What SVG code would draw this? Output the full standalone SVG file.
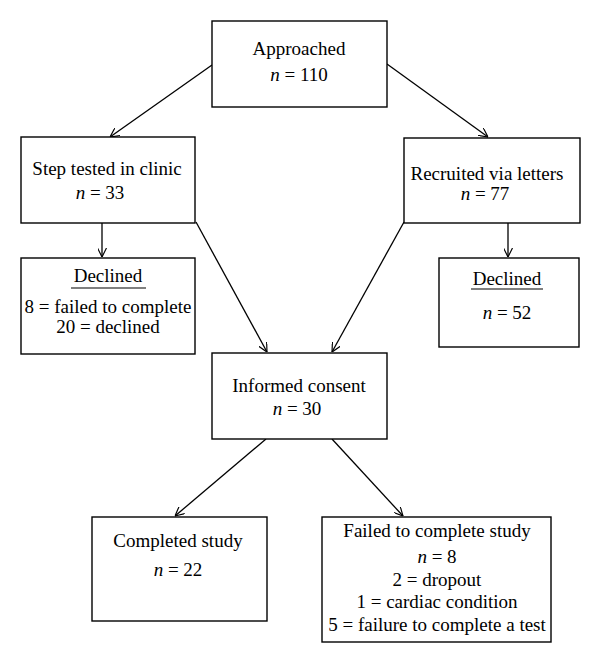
<svg xmlns="http://www.w3.org/2000/svg" width="600" height="663" viewBox="0 0 600 663">
<style>
  .box { fill: #ffffff; stroke: #000000; stroke-width: 1.4; }
  text { font-family: "Liberation Serif", "Times New Roman", serif; font-size: 19px; fill: #000000; text-anchor: middle; }
  .i { font-style: italic; }
  .conn { stroke: #000000; stroke-width: 1.3; fill: none; marker-end: url(#arr); }
  .ul { stroke: #000000; stroke-width: 1.2; }
</style>
<defs>
  <marker id="arr" viewBox="0 0 10 10" refX="10" refY="5" markerWidth="9" markerHeight="9" markerUnits="userSpaceOnUse" orient="auto">
    <path d="M0,0 L10,5 L0,10" fill="none" stroke="#000000" stroke-width="1.3"/>
  </marker>
</defs>
<rect width="600" height="663" fill="#ffffff"/>
<g id="connectors">
  <line class="conn" x1="212" y1="65" x2="110" y2="137"/>
  <line class="conn" x1="387" y1="64" x2="488" y2="137"/>
  <line class="conn" x1="102" y1="223" x2="102" y2="257"/>
  <line class="conn" x1="508" y1="223" x2="508" y2="257"/>
  <line class="conn" x1="196" y1="222" x2="267" y2="352"/>
  <line class="conn" x1="404" y1="222" x2="332" y2="352"/>
  <line class="conn" x1="266" y1="439" x2="175" y2="516"/>
  <line class="conn" x1="332" y1="439" x2="403" y2="516"/>
</g>
<g id="approached">
  <rect class="box" x="212" y="21" width="175" height="86"/>
  <text x="299" y="55">Approached</text>
  <text x="299" y="81"><tspan class="i">n</tspan> = 110</text>
</g>
<g id="step-tested">
  <rect class="box" x="21" y="137" width="174" height="86"/>
  <text x="107" y="175">Step tested in clinic</text>
  <text x="100" y="199"><tspan class="i">n</tspan> = 33</text>
</g>
<g id="recruited">
  <rect class="box" x="404" y="138" width="176" height="85"/>
  <text x="487" y="180">Recruited via letters</text>
  <text x="485" y="200"><tspan class="i">n</tspan> = 77</text>
</g>
<g id="declined-left">
  <rect class="box" x="21" y="258" width="174" height="96"/>
  <text x="108" y="282">Declined</text>
  <line class="ul" x1="71" y1="288" x2="146" y2="288"/>
  <text x="108" y="313">8 = failed to complete</text>
  <text x="108" y="333">20 = declined</text>
</g>
<g id="declined-right">
  <rect class="box" x="439" y="258" width="140" height="89"/>
  <text x="507" y="285">Declined</text>
  <line class="ul" x1="471" y1="289" x2="543" y2="289"/>
  <text x="507" y="319"><tspan class="i">n</tspan> = 52</text>
</g>
<g id="informed-consent">
  <rect class="box" x="212" y="353" width="175" height="86"/>
  <text x="299" y="392">Informed consent</text>
  <text x="297" y="415"><tspan class="i">n</tspan> = 30</text>
</g>
<g id="completed">
  <rect class="box" x="92" y="517" width="175" height="104"/>
  <text x="178" y="547">Completed study</text>
  <text x="178" y="576"><tspan class="i">n</tspan> = 22</text>
</g>
<g id="failed">
  <rect class="box" x="322" y="517" width="229" height="125"/>
  <text x="437" y="537">Failed to complete study</text>
  <text x="437" y="563"><tspan class="i">n</tspan> = 8</text>
  <text x="437" y="586">2 = dropout</text>
  <text x="437" y="608">1 = cardiac condition</text>
  <text x="437" y="631">5 = failure to complete a test</text>
</g>
</svg>
